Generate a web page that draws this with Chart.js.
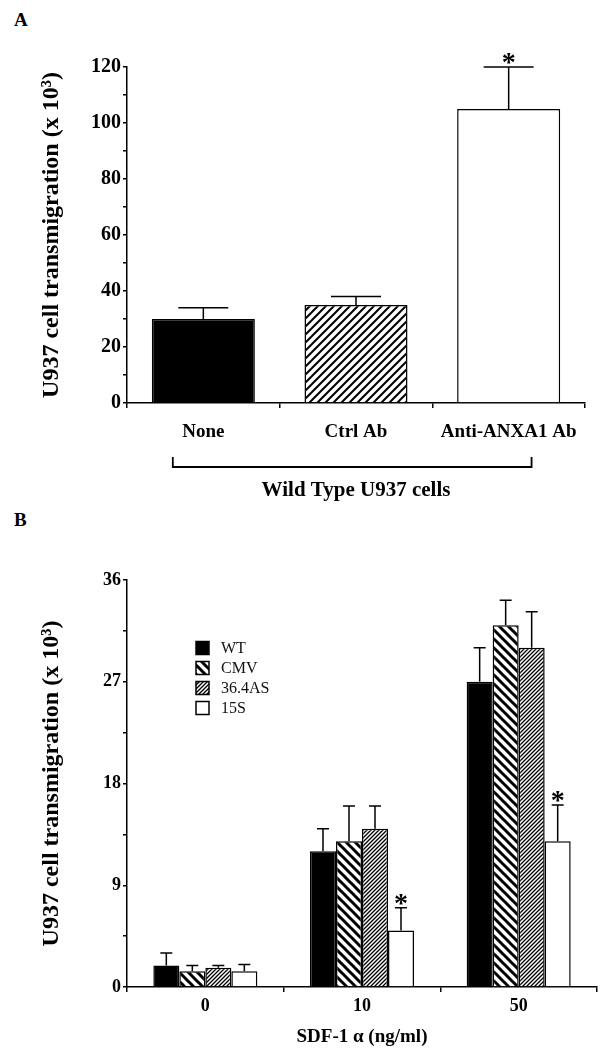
<!DOCTYPE html>
<html>
<head>
<meta charset="utf-8">
<script src="https://cdn.jsdelivr.net/npm/chart.js@4"></script>
<style>
body{margin:0;background:#fff;width:613px;height:1050px;position:relative;overflow:hidden;font-family:"Liberation Serif",serif}
canvas{position:absolute;left:0}
#cA{top:0}
#cB{top:505px}
.lab{position:absolute;font-weight:bold;font-size:19px;left:14px;line-height:22px}
</style>
</head>
<body>
<div class="lab" style="top:9px">A</div>
<div class="lab" style="top:509px">B</div>
<canvas id="cA" width="613" height="505"></canvas>
<canvas id="cB" width="613" height="545"></canvas>
<script>
// panel A data
const groupsA = ['None', 'Ctrl Ab', 'Anti-ANXA1 Ab'];
const valuesA = [30, 35, 105];
const errTopA = [34, 38, 120];
const starA = [false, false, true];

// panel B data
const doses = ['0', '10', '50'];
const seriesB = ['WT', 'CMV', '36.4AS', '15S'];
const wt = [1.9, 12, 27];
const errWt = [3.0, 14, 30];
const cmv = [1.4, 12.9, 32];
const errCmv = [1.9, 16, 34.2];
const as364 = [1.7, 14, 30];
const err364 = [1.9, 16, 33.2];
const s15 = [1.4, 5, 12.9];
const err15 = [2.0, 7, 16.1];
const star15 = [false, true, true];

const SERIF = '"Liberation Serif", "Times New Roman", serif';
Chart.defaults.font.family = SERIF;
Chart.defaults.color = '#000';

// hatch fills
function stripes(size, width, dir) {
    const c = document.createElement('canvas');
    c.width = size; c.height = size;
    const g = c.getContext('2d');
    g.fillStyle = '#fff';
    g.fillRect(0, 0, size, size);
    g.strokeStyle = '#000';
    g.lineWidth = width;
    g.beginPath();
    if (dir === '/') {
        g.moveTo(0, size); g.lineTo(size, 0);
        g.moveTo(-size / 2, size / 2); g.lineTo(size / 2, -size / 2);
        g.moveTo(size / 2, size * 1.5); g.lineTo(size * 1.5, size / 2);
    } else {
        g.moveTo(0, 0); g.lineTo(size, size);
        g.moveTo(-size / 2, size / 2); g.lineTo(size / 2, size * 1.5);
        g.moveTo(size / 2, -size / 2); g.lineTo(size * 1.5, size / 2);
    }
    g.stroke();
    return g.createPattern(c, 'repeat');
}
const ctxA = document.getElementById('cA').getContext('2d');
const ctxB = document.getElementById('cB').getContext('2d');
const hatchCtrl = stripes(8, 2, '/');
const hatchCmv = stripes(9, 3, '\\');
const hatch364 = stripes(4, 1.3, '/');

// error bars + asterisks
const errorBars = {
    id: 'errorBars',
    afterDatasetsDraw(chart, args, opts) {
        const ctx = chart.ctx;
        const y = chart.scales.y;
        ctx.save();
        ctx.strokeStyle = '#000';
        ctx.lineWidth = 1.5;
        chart.data.datasets.forEach((ds, i) => {
            const meta = chart.getDatasetMeta(i);
            meta.data.forEach((bar, j) => {
                const top = y.getPixelForValue(ds.errTop[j]);
                ctx.beginPath();
                ctx.moveTo(bar.x, bar.y);
                ctx.lineTo(bar.x, top);
                ctx.moveTo(bar.x - opts.cap / 2, top);
                ctx.lineTo(bar.x + opts.cap / 2, top);
                ctx.stroke();
                if (ds.star && ds.star[j]) {
                    ctx.fillStyle = '#000';
                    ctx.font = 'bold 28px ' + SERIF;
                    ctx.textAlign = 'center';
                    ctx.textBaseline = 'alphabetic';
                    ctx.fillText('*', bar.x, top + 4);
                }
            });
        });
        ctx.restore();
    }
};

// bracket under panel A labels
const bracket = {
    id: 'bracket',
    afterDraw(chart) {
        const x = chart.scales.x;
        const b = chart.chartArea.bottom;
        const x0 = x.getPixelForValue(-0.2), x1 = x.getPixelForValue(2.15);
        const ctx = chart.ctx;
        ctx.save();
        ctx.strokeStyle = '#000';
        ctx.lineWidth = 1.8;
        ctx.beginPath();
        ctx.moveTo(x0, b + 54); ctx.lineTo(x0, b + 64);
        ctx.lineTo(x1, b + 64); ctx.lineTo(x1, b + 54);
        ctx.stroke();
        ctx.restore();
    }
};

// legend box for panel B
const boxLegend = {
    id: 'boxLegend',
    afterDraw(chart) {
        const ctx = chart.ctx;
        ctx.save();
        chart.data.datasets.forEach((ds, i) => {
            const cy = 143 + i * 20;
            ctx.fillStyle = ds.backgroundColor;
            ctx.fillRect(196, cy - 6.5, 13, 13);
            ctx.strokeStyle = '#000';
            ctx.lineWidth = 1.5;
            ctx.strokeRect(196, cy - 6.5, 13, 13);
            ctx.fillStyle = '#111';
            ctx.font = '16px ' + SERIF;
            ctx.textAlign = 'left';
            ctx.textBaseline = 'middle';
            ctx.fillText(ds.label, 221, cy + 1);
        });
        ctx.restore();
    }
};

function yTitle() {
    return { display: true, text: 'U937 cell transmigration (x 10³)', font: { size: 24, weight: 'bold' }, padding: { top: 37, bottom: 0 } };
}

new Chart(ctxA, {
    type: 'bar',
    data: {
        labels: groupsA,
        datasets: [{
            label: 'A',
            data: valuesA,
            errTop: errTopA,
            star: starA,
            backgroundColor: ['#000', hatchCtrl, '#fff'],
            borderColor: '#000',
            borderWidth: 1.5,
            categoryPercentage: 1,
            barPercentage: 0.675
        }]
    },
    options: {
        responsive: false,
        animation: false,
        layout: { padding: { top: 67, right: 28, left: 0, bottom: 0 } },
        plugins: { legend: { display: false }, tooltip: { enabled: false }, errorBars: { cap: 50 } },
        scales: {
            x: {
                grid: { drawOnChartArea: false, tickLength: 5, color: '#000', lineWidth: 1.5 },
                border: { color: '#000', width: 1.5 },
                ticks: { font: { size: 19, weight: 'bold' }, padding: 13, maxRotation: 0, autoSkip: false },
                title: { display: true, text: 'Wild Type U937 cells', font: { size: 21, weight: 'bold' }, padding: { top: 0, bottom: 1.4 } },
                afterFit: s => { s.height = 102; }
            },
            y: {
                min: 0, max: 120,
                grid: { drawOnChartArea: false, tickLength: 4, color: '#000', lineWidth: 1.5 },
                border: { color: '#000', width: 1.5 },
                ticks: { stepSize: 10, font: { size: 20, weight: 'bold' }, padding: 2, callback: v => v % 20 === 0 ? v : '' },
                title: yTitle(),
                afterFit: s => { s.width = 127; }
            }
        }
    },
    plugins: [errorBars, bracket]
});

new Chart(ctxB, {
    type: 'bar',
    data: {
        labels: doses,
        datasets: [
            { label: seriesB[0], data: wt, errTop: errWt, backgroundColor: '#000' },
            { label: seriesB[1], data: cmv, errTop: errCmv, backgroundColor: hatchCmv },
            { label: seriesB[2], data: as364, errTop: err364, backgroundColor: hatch364 },
            { label: seriesB[3], data: s15, errTop: err15, star: star15, backgroundColor: '#fff' }
        ].map(d => Object.assign(d, { borderColor: '#000', borderWidth: 1.5, categoryPercentage: 0.664, barPercentage: 1 }))
    },
    options: {
        responsive: false,
        animation: false,
        layout: { padding: { top: 75, right: 16, left: 0, bottom: 0 } },
        plugins: { legend: { display: false }, tooltip: { enabled: false }, errorBars: { cap: 12 } },
        scales: {
            x: {
                grid: { drawOnChartArea: false, tickLength: 5, color: '#000', lineWidth: 1.5 },
                border: { color: '#000', width: 1.5 },
                ticks: { font: { size: 18, weight: 'bold' }, padding: 4, maxRotation: 0 },
                title: { display: true, text: 'SDF-1 α (ng/ml)', font: { size: 19, weight: 'bold' }, padding: { top: 0, bottom: 1.6 } },
                afterFit: s => { s.height = 63; }
            },
            y: {
                min: 0, max: 36,
                grid: { drawOnChartArea: false, tickLength: 4, color: '#000', lineWidth: 1.5 },
                border: { color: '#000', width: 1.5 },
                ticks: { stepSize: 4.5, font: { size: 18, weight: 'bold' }, padding: 2, callback: v => v % 9 === 0 ? v : '' },
                title: yTitle(),
                afterFit: s => { s.width = 127; }
            }
        }
    },
    plugins: [errorBars, boxLegend]
});
</script>
</body>
</html>
